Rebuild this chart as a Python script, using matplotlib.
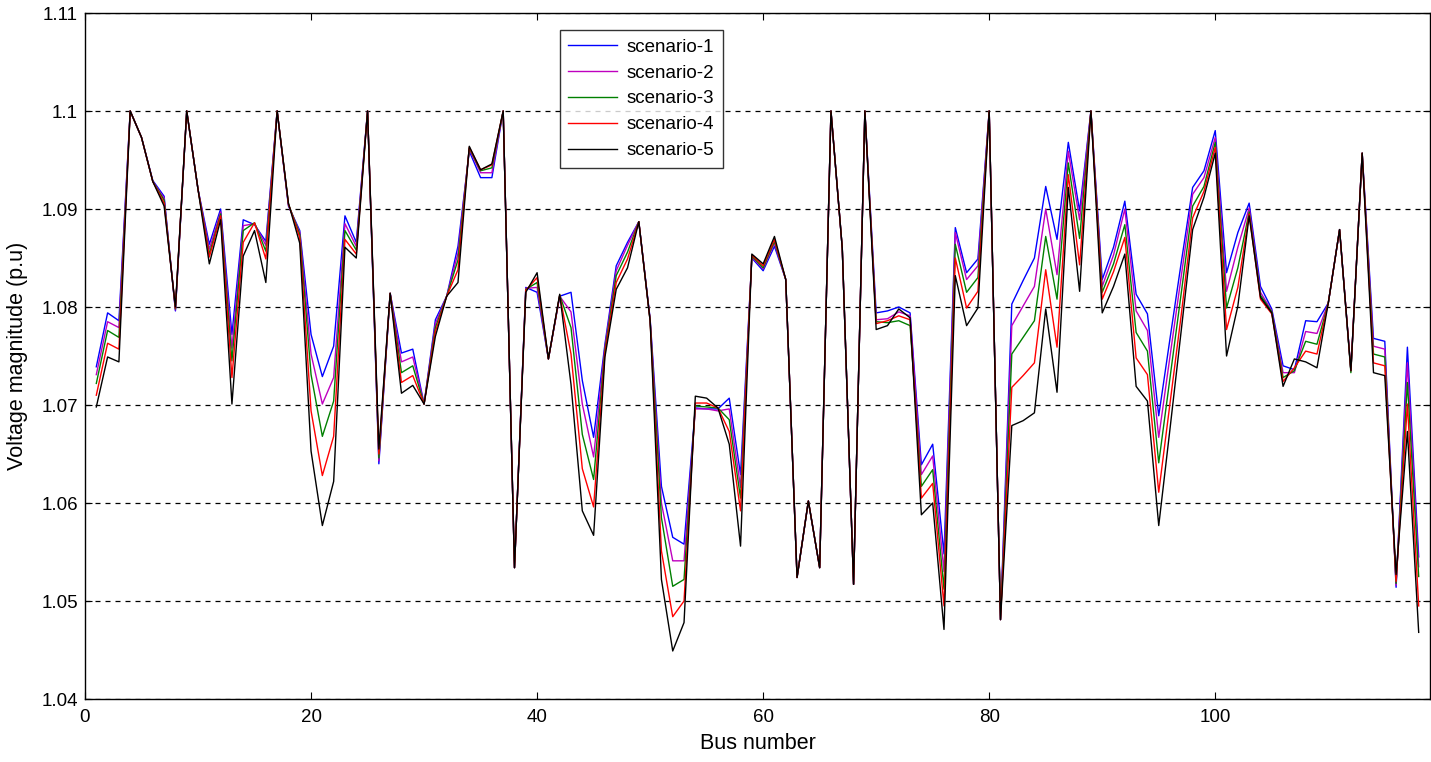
import matplotlib
matplotlib.use("Agg")
import matplotlib.pyplot as plt
from matplotlib.ticker import FuncFormatter
import numpy as np

plt.rcParams['font.family'] = ['Liberation Sans', 'DejaVu Sans']

# bus voltage magnitudes (p.u.), buses 1..118
scenario_1 = [
    1.0739, 1.0794, 1.0786, 1.1000, 1.0973, 1.0929, 1.0913, 1.0796, 1.1000, 1.0920,
    1.0864, 1.0900, 1.0772, 1.0889, 1.0884, 1.0867, 1.1000, 1.0903, 1.0878, 1.0772,
    1.0729, 1.0760, 1.0893, 1.0866, 1.1000, 1.0640, 1.0814, 1.0753, 1.0757, 1.0701,
    1.0787, 1.0811, 1.0862, 1.0959, 1.0932, 1.0932, 1.1000, 1.0534, 1.0820, 1.0815,
    1.0747, 1.0811, 1.0815, 1.0725, 1.0667, 1.0762, 1.0842, 1.0866, 1.0887, 1.0788,
    1.0617, 1.0565, 1.0558, 1.0697, 1.0696, 1.0696, 1.0707, 1.0629, 1.0850, 1.0837,
    1.0862, 1.0828, 1.0524, 1.0602, 1.0534, 1.1000, 1.0860, 1.0517, 1.1000, 1.0794,
    1.0796, 1.0800, 1.0794, 1.0639, 1.0660, 1.0548, 1.0881, 1.0835, 1.0849, 1.1000,
    1.0481, 1.0803, 1.0827, 1.0850, 1.0923, 1.0869, 1.0968, 1.0898, 1.1000, 1.0828,
    1.0861, 1.0908, 1.0813, 1.0793, 1.0689, 1.0768, 1.0846, 1.0922, 1.0939, 1.0980,
    1.0835, 1.0876, 1.0906, 1.0821, 1.0798, 1.0740, 1.0736, 1.0786, 1.0785, 1.0804,
    1.0879, 1.0735, 1.0957, 1.0768, 1.0765, 1.0514, 1.0759, 1.0545,
]
scenario_2 = [
    1.0731, 1.0785, 1.0779, 1.1000, 1.0973, 1.0928, 1.0911, 1.0797, 1.1000, 1.0920,
    1.0859, 1.0897, 1.0758, 1.0883, 1.0885, 1.0863, 1.1000, 1.0904, 1.0876, 1.0752,
    1.0701, 1.0728, 1.0885, 1.0862, 1.1000, 1.0643, 1.0814, 1.0744, 1.0749, 1.0701,
    1.0783, 1.0811, 1.0855, 1.0961, 1.0937, 1.0937, 1.1000, 1.0534, 1.0819, 1.0820,
    1.0747, 1.0811, 1.0795, 1.0701, 1.0647, 1.0759, 1.0837, 1.0863, 1.0887, 1.0787,
    1.0600, 1.0541, 1.0541, 1.0696, 1.0696, 1.0694, 1.0696, 1.0616, 1.0851, 1.0839,
    1.0865, 1.0828, 1.0524, 1.0602, 1.0534, 1.1000, 1.0860, 1.0517, 1.1000, 1.0787,
    1.0788, 1.0795, 1.0791, 1.0629, 1.0648, 1.0530, 1.0876, 1.0828, 1.0842, 1.1000,
    1.0481, 1.0781, 1.0801, 1.0821, 1.0900, 1.0833, 1.0959, 1.0889, 1.1000, 1.0821,
    1.0853, 1.0900, 1.0796, 1.0776, 1.0667, 1.0750, 1.0832, 1.0915, 1.0932, 1.0973,
    1.0816, 1.0861, 1.0901, 1.0815, 1.0796, 1.0733, 1.0733, 1.0775, 1.0773, 1.0804,
    1.0879, 1.0735, 1.0957, 1.0760, 1.0757, 1.0516, 1.0743, 1.0535,
]
scenario_3 = [
    1.0722, 1.0776, 1.0769, 1.1000, 1.0973, 1.0928, 1.0909, 1.0798, 1.1000, 1.0920,
    1.0854, 1.0895, 1.0745, 1.0878, 1.0886, 1.0857, 1.1000, 1.0905, 1.0874, 1.0731,
    1.0668, 1.0704, 1.0878, 1.0858, 1.1000, 1.0646, 1.0814, 1.0733, 1.0740, 1.0701,
    1.0779, 1.0811, 1.0848, 1.0962, 1.0939, 1.0942, 1.1000, 1.0534, 1.0818, 1.0825,
    1.0747, 1.0812, 1.0779, 1.0670, 1.0624, 1.0756, 1.0832, 1.0856, 1.0887, 1.0786,
    1.0585, 1.0515, 1.0522, 1.0699, 1.0698, 1.0697, 1.0685, 1.0605, 1.0852, 1.0840,
    1.0867, 1.0828, 1.0524, 1.0602, 1.0534, 1.1000, 1.0860, 1.0517, 1.1000, 1.0785,
    1.0784, 1.0786, 1.0781, 1.0617, 1.0634, 1.0512, 1.0864, 1.0815, 1.0830, 1.1000,
    1.0481, 1.0752, 1.0769, 1.0786, 1.0872, 1.0808, 1.0947, 1.0870, 1.1000, 1.0815,
    1.0844, 1.0884, 1.0774, 1.0755, 1.0641, 1.0728, 1.0815, 1.0903, 1.0923, 1.0968,
    1.0799, 1.0840, 1.0897, 1.0812, 1.0795, 1.0728, 1.0735, 1.0765, 1.0762, 1.0804,
    1.0879, 1.0733, 1.0957, 1.0752, 1.0749, 1.0518, 1.0723, 1.0525,
]
scenario_4 = [
    1.0710, 1.0763, 1.0757, 1.1000, 1.0973, 1.0928, 1.0906, 1.0799, 1.1000, 1.0920,
    1.0851, 1.0893, 1.0728, 1.0866, 1.0886, 1.0849, 1.1000, 1.0905, 1.0871, 1.0694,
    1.0628, 1.0668, 1.0869, 1.0854, 1.1000, 1.0650, 1.0814, 1.0723, 1.0730, 1.0701,
    1.0775, 1.0811, 1.0838, 1.0963, 1.0940, 1.0945, 1.1000, 1.0534, 1.0817, 1.0830,
    1.0747, 1.0812, 1.0752, 1.0635, 1.0596, 1.0753, 1.0825, 1.0849, 1.0887, 1.0786,
    1.0551, 1.0484, 1.0500, 1.0702, 1.0702, 1.0697, 1.0673, 1.0592, 1.0853, 1.0842,
    1.0869, 1.0828, 1.0524, 1.0602, 1.0534, 1.1000, 1.0860, 1.0517, 1.1000, 1.0783,
    1.0786, 1.0791, 1.0787, 1.0605, 1.0620, 1.0495, 1.0850, 1.0799, 1.0816, 1.1000,
    1.0481, 1.0718, 1.0730, 1.0743, 1.0838, 1.0759, 1.0935, 1.0843, 1.1000, 1.0808,
    1.0836, 1.0871, 1.0748, 1.0731, 1.0611, 1.0702, 1.0793, 1.0891, 1.0918, 1.0963,
    1.0777, 1.0820, 1.0895, 1.0808, 1.0793, 1.0724, 1.0738, 1.0755, 1.0752, 1.0804,
    1.0879, 1.0735, 1.0957, 1.0743, 1.0740, 1.0520, 1.0701, 1.0495,
]
scenario_5 = [
    1.0698, 1.0749, 1.0744, 1.1000, 1.0973, 1.0928, 1.0903, 1.0800, 1.1000, 1.0920,
    1.0844, 1.0889, 1.0701, 1.0852, 1.0878, 1.0825, 1.1000, 1.0906, 1.0865, 1.0653,
    1.0577, 1.0622, 1.0861, 1.0850, 1.1000, 1.0655, 1.0814, 1.0712, 1.0720, 1.0701,
    1.0770, 1.0811, 1.0825, 1.0964, 1.0940, 1.0946, 1.1000, 1.0534, 1.0815, 1.0835,
    1.0747, 1.0813, 1.0721, 1.0592, 1.0567, 1.0749, 1.0818, 1.0840, 1.0887, 1.0786,
    1.0522, 1.0449, 1.0478, 1.0709, 1.0707, 1.0697, 1.0660, 1.0556, 1.0854, 1.0844,
    1.0872, 1.0828, 1.0524, 1.0602, 1.0534, 1.1000, 1.0860, 1.0517, 1.1000, 1.0777,
    1.0781, 1.0798, 1.0789, 1.0588, 1.0600, 1.0471, 1.0832, 1.0781, 1.0799, 1.1000,
    1.0481, 1.0679, 1.0684, 1.0692, 1.0798, 1.0713, 1.0922, 1.0816, 1.1000, 1.0794,
    1.0821, 1.0854, 1.0719, 1.0704, 1.0577, 1.0676, 1.0777, 1.0879, 1.0912, 1.0957,
    1.0750, 1.0801, 1.0893, 1.0810, 1.0794, 1.0719, 1.0747, 1.0744, 1.0738, 1.0804,
    1.0879, 1.0735, 1.0957, 1.0733, 1.0730, 1.0527, 1.0673, 1.0468,
]

labels = ['scenario-1', 'scenario-2', 'scenario-3', 'scenario-4', 'scenario-5']
colors = ['#0000ff', '#bf00bf', '#008000', '#ff0000', '#000000']
series = [scenario_1, scenario_2, scenario_3, scenario_4, scenario_5]

bus = np.arange(1, len(scenario_1) + 1)

fig = plt.figure(figsize=(14.31, 7.62), dpi=100)
ax = fig.add_axes([85 / 1431, 63 / 762, 1345 / 1431, 686 / 762])

for vals, lab, col in zip(series, labels, colors):
    ax.plot(bus, vals, color=col, linewidth=1.0, label=lab)

ax.set_xlim(0, 119)
ax.set_ylim(1.04, 1.11)
ax.set_xticks([0, 20, 40, 60, 80, 100])
ax.set_yticks(np.round(np.arange(1.04, 1.1101, 0.01), 2))
ax.yaxis.set_major_formatter(FuncFormatter(lambda v, p: f"{v:g}"))

ax.yaxis.grid(True, linestyle=(0, (4, 4)), color='black', linewidth=0.9)
ax.set_axisbelow(True)

ax.tick_params(direction='in', top=True, right=True, length=5, labelsize=13.5, pad=5)
ax.tick_params(axis='x', pad=7)
for s in ax.spines.values():
    s.set_linewidth(1.0)

ax.set_xlabel('Bus number', fontsize=15.5, labelpad=5)
ax.set_ylabel('Voltage magnitude (p.u)', fontsize=15.5, labelpad=10)

leg = ax.legend(loc='upper left', bbox_to_anchor=((560 - 85) / 1345, (699 - 30) / 686),
                borderaxespad=0, fontsize=13.5, frameon=True, fancybox=False,
                handlelength=2.6, labelspacing=0.47, borderpad=0.45, handletextpad=0.5)
leg.get_frame().set_edgecolor('black')
leg.get_frame().set_linewidth(1.0)

fig.savefig('out.png', dpi=100)
